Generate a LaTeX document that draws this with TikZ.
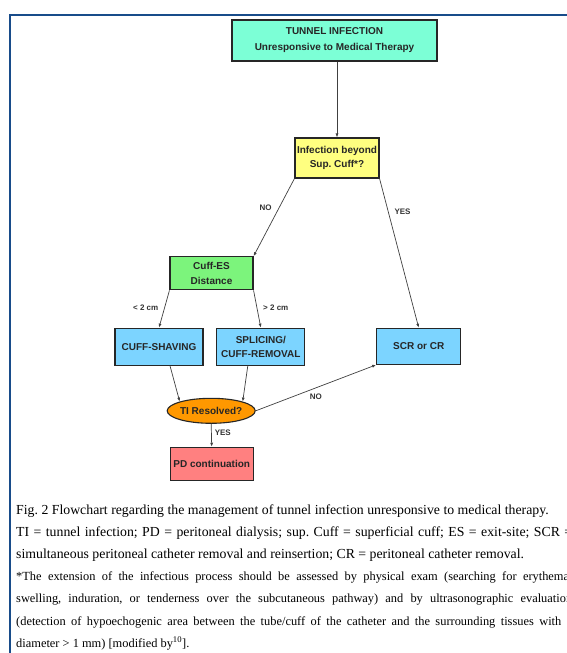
\documentclass[tikz,border=0pt]{standalone}
\usepackage{fontspec}
\setmainfont{Liberation Serif}
\setsansfont{Liberation Sans}
\usetikzlibrary{shapes.geometric,arrows.meta}
\definecolor{framecol}{RGB}{24,76,138}
\definecolor{tunnelcol}{RGB}{124,255,214}
\definecolor{beyondcol}{RGB}{255,255,128}
\definecolor{distcol}{RGB}{124,244,124}
\definecolor{surgcol}{RGB}{124,212,255}
\definecolor{resolvcol}{RGB}{255,152,0}
\definecolor{pdcol}{RGB}{255,128,128}
\frenchspacing
\begin{document}
\begin{tikzpicture}[x=1pt,y=-1pt,
  box/.style={draw=black!85,line width=1.1pt,align=center,inner sep=0pt,
    font=\sffamily\bfseries\fontsize{10}{14}\selectfont,text=black!85},
  arr/.style={draw=black!75,line width=0.7pt,-{Latex[length=4pt,width=3pt]}},
  lbl/.style={font=\sffamily\bfseries\fontsize{8}{8}\selectfont,text=black!80,inner sep=0pt},
  capline/.style={anchor=base west,inner sep=0pt,font=\fontsize{13.8}{16}\selectfont},
  noteline/.style={capline,font=\fontsize{12.4}{15}\selectfont}]
\useasboundingbox (0,0) rectangle (567,653);
\clip (0,0) rectangle (567,653);
\fill[white] (0,0) rectangle (567,653);
\draw[framecol,line width=2pt] (10,680) -- (10,14.7) -- (600,14.7);
\pgfmathsetmacro\capx{16}
\pgfmathsetmacro\capy{514}
\pgfmathsetmacro\capskip{22.2}
\def\capw{556pt}
% flowchart
\node[box,fill=tunnelcol,minimum width=205pt,minimum height=41pt,font=\sffamily\bfseries\fontsize{10}{16}\selectfont] (tunnel) at (334.5,40.5) {TUNNEL INFECTION\\Unresponsive to Medical Therapy};
\node[box,fill=beyondcol,minimum width=84pt,minimum height=40pt,font=\sffamily\bfseries\fontsize{10}{13.5}\selectfont] (beyond) at (337,158) {Infection beyond\\Sup. Cuff*?};
\node[box,fill=distcol,minimum width=83pt,minimum height=33pt,font=\sffamily\bfseries\fontsize{10}{15.5}\selectfont] (dist) at (211.5,273.3) {Cuff-ES\\Distance};
\node[box,fill=surgcol,minimum width=88pt,minimum height=37pt] (shave) at (159,346.7) {CUFF-SHAVING};
\node[box,fill=surgcol,minimum width=88pt,minimum height=37pt] (splice) at (260.8,346.7) {SPLICING/\\CUFF-REMOVAL};
\node[box,fill=surgcol,minimum width=84pt,minimum height=36pt] (scr) at (418.7,346.3) {SCR or CR};
\node[box,ellipse,fill=resolvcol,minimum width=79pt,minimum height=25pt] (resolved) at (211.2,410.8) {TI Resolved?};
\node[box,fill=pdcol,minimum width=83pt,minimum height=33.4pt] (pd) at (211.7,464) {PD continuation};
\draw[arr] (beyond.north |- tunnel.south) -- (beyond.north);
\draw[arr] (beyond.south west) -- node[lbl,pos=0.38,left=7pt] {NO} (dist.north east);
\draw[arr] (beyond.south east) -- node[lbl,pos=0.22,right=6pt] {YES} (scr.north);
\draw[arr] (dist.south west) -- node[lbl,pos=0.46,left=6pt] {< 2 cm} (shave.north);
\draw[arr] (dist.south east) -- node[lbl,pos=0.46,right=6pt] {> 2 cm} (splice.north);
\draw[arr] ([xshift=11pt]shave.south) -- (resolved.north west);
\draw[arr] ([xshift=-13pt]splice.south) -- (resolved.north east);
\draw[arr] (resolved.east) -- node[lbl,pos=0.5,below=6pt] {NO} (scr.south west);
\draw[arr] (resolved.south) -- node[lbl,pos=0.4,right=3pt] {YES} (pd.north);
% caption
\node[capline] (cap1) at (\capx,\capy) {Fig. 2 Flowchart regarding the management of tunnel infection unresponsive to medical therapy.};
\node[capline] (cap2) at (\capx,\capy+\capskip) {\makebox[\capw][s]{TI = tunnel infection; PD = peritoneal dialysis; sup. Cuff = superficial cuff; ES = exit-site; SCR =}};
\node[capline] (cap3) at (\capx,\capy+2*\capskip) {simultaneous peritoneal catheter removal and reinsertion; CR = peritoneal catheter removal.};
\node[noteline] (note1) at (\capx,\capy+3*\capskip) {\makebox[\capw][s]{*The extension of the infectious process should be assessed by physical exam (searching for erythema,}};
\node[noteline] (note2) at (\capx,\capy+4*\capskip) {\makebox[\capw][s]{swelling, induration, or tenderness over the subcutaneous pathway) and by ultrasonographic evaluation}};
\node[noteline] (note3) at (\capx,\capy+5*\capskip) {\makebox[\capw][s]{(detection of hypoechogenic area between the tube/cuff of the catheter and the surrounding tissues with a}};
\node[noteline] (note4) at (\capx,\capy+6*\capskip) {diameter > 1 mm) [modified by\textsuperscript{10}].};
\end{tikzpicture}
\end{document}
